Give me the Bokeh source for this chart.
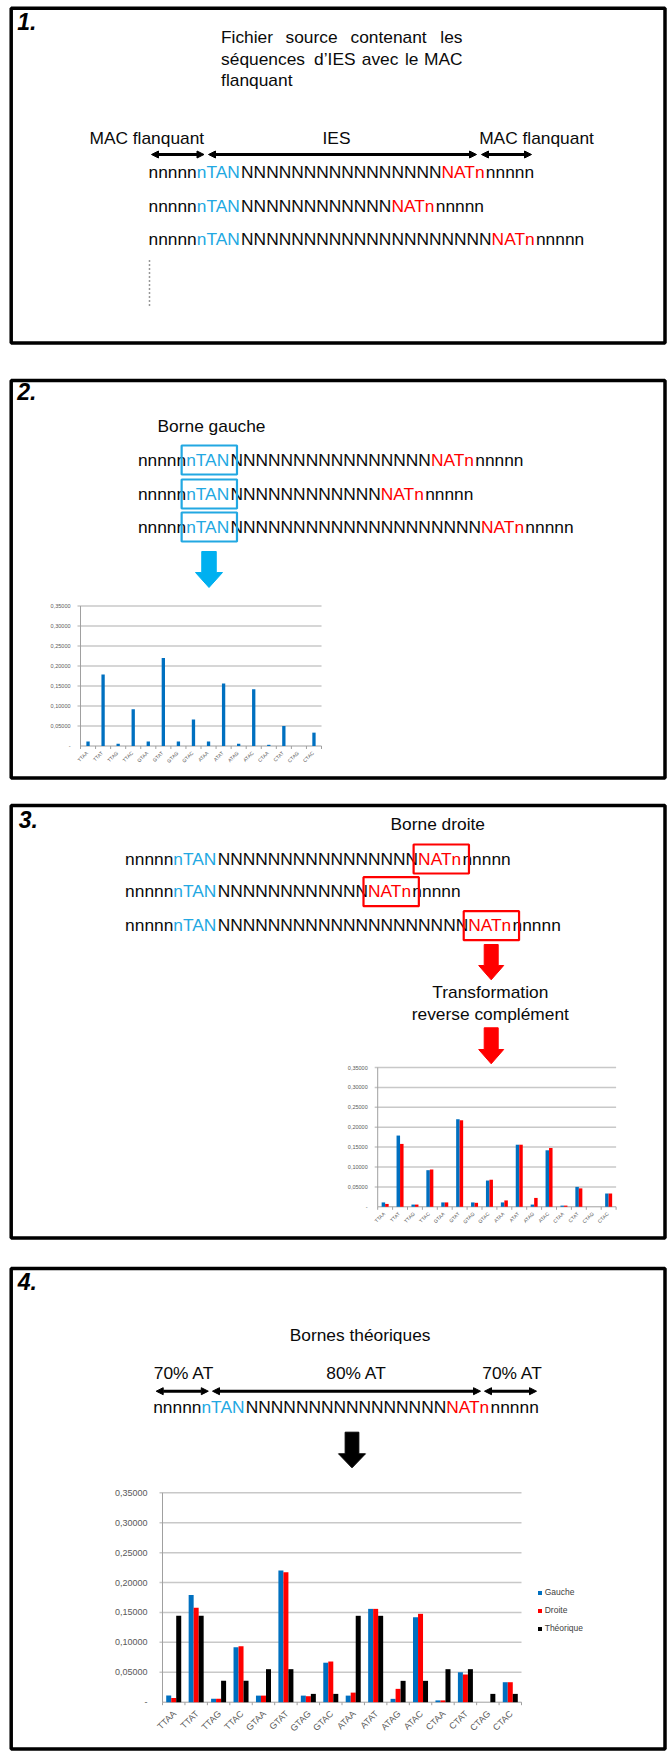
import math
from bokeh.plotting import figure
from bokeh.models import (Range1d, FactorRange, CategoricalScale, LinearScale, CoordinateMapping,
                          Arrow, NormalHead, Legend, LegendItem, ColumnDataSource)
from bokeh.transform import dodge
from bokeh.core.properties import value
from bokeh.embed import file_html
from bokeh.resources import INLINE

# ---------------- data ----------------
categories = ["TTAA", "TTAT", "TTAG", "TTAC", "GTAA", "GTAT", "GTAG", "GTAC",
              "ATAA", "ATAT", "ATAG", "ATAC", "CTAA", "CTAT", "CTAG", "CTAC"]
gauche = [0.011, 0.179, 0.0056, 0.092, 0.011, 0.220, 0.011, 0.066,
          0.011, 0.156, 0.0056, 0.142, 0.003, 0.050, 0.0, 0.0334]
droite = [0.0072, 0.158, 0.0056, 0.0937, 0.011, 0.2174, 0.010, 0.068,
          0.016, 0.156, 0.0223, 0.1477, 0.003, 0.0463, 0.0, 0.0334]
theorique = [0.1444, 0.1444, 0.0357, 0.0357, 0.0552, 0.0552, 0.0139, 0.0139,
             0.1444, 0.1444, 0.0357, 0.0357, 0.0552, 0.0552, 0.0139, 0.0139]
series_names = ["Gauche", "Droite", "Théorique"]
y_ticks = [0.0, 0.05, 0.10, 0.15, 0.20, 0.25, 0.30, 0.35]
y_tick_labels = ["-", "0,05000", "0,10000", "0,15000", "0,20000", "0,25000", "0,30000", "0,35000"]
ies_lengths = [16, 12, 20]   # number of N in the three example IES

# ---------------- styles ----------------
BLACK = "#0A0A0A"
BLUE_TXT = "#22A8E2"
BLUE_ARROW = "#00B0F0"
RED = "#FF0000"
BAR_COLORS = ["#0070C0", "#FF0000", "#000000"]
GRID = "#C8C8C8"
AXIS = "#A0A0A0"
LABEL = "#595959"
FONT = "Liberation Sans"
FS = 17.35
DY = -1.0
W, H = 669, 1751

p = figure(width=W, height=H, x_range=Range1d(0, W), y_range=Range1d(H, 0),
           output_backend="svg", toolbar_location=None, x_axis_location=None,
           y_axis_location=None, min_border=0, outline_line_color=None)
p.grid.visible = False
p.background_fill_color = "white"
p.border_fill_color = "white"


def txt(x, y, s, size=FS, color=BLACK, align="left", style="normal"):
    p.text(x=[x], y=[y + DY], text=[s], text_font=value(FONT), text_font_size=value(f"{size}px"),
           text_color=color, text_align=align, text_baseline="middle", text_font_style=style)


W_EM = {"n": 0.556, "T": 0.611, "A": 0.667, "N": 0.722}


def em(s):
    return sum(W_EM[c] for c in s) * FS


def sequence(x, y, k):
    parts = [("nnnnn", BLACK), ("nTAN", BLUE_TXT), ("N" * k, BLACK), ("NATn", RED), ("nnnnn", BLACK)]
    segs = []
    for s, c in parts:
        txt(x, y, s, color=c)
        segs.append((x, x + em(s)))
        x += em(s)
    return segs


def box(seg, y, color):
    p.quad(left=[seg[0] - 4.5], right=[seg[1] + 6.5], top=[y - 15], bottom=[y + 14],
           fill_color=None, line_color=color, line_width=2.2)


def dbl_arrow(xa, xb, y):
    p.add_layout(Arrow(start=NormalHead(size=7, fill_color="black", line_color="black"),
                       end=NormalHead(size=7, fill_color="black", line_color="black"),
                       x_start=xa, y_start=y, x_end=xb, y_end=y, line_width=3, line_color="black"))


def block_arrow(cx, top, head_y, tip, shaft_w, head_w, color):
    xs = [cx - shaft_w / 2, cx + shaft_w / 2, cx + shaft_w / 2, cx + head_w / 2, cx,
          cx - head_w / 2, cx - shaft_w / 2]
    ys = [top, top, head_y, head_y, tip, head_y, head_y]
    p.patch(xs, ys, fill_color=color, line_color=color, line_width=1)


def bar_chart(xl, xr, y_zero, y_top, series, colors, bar_w, lab_fs, cat_fs, gap, cat_dx, cat_dy):
    n_cat = len(categories)
    fr = FactorRange(factors=categories)
    cm_cat = CoordinateMapping(x_source=fr, y_source=Range1d(0, 0.35),
                               x_scale=CategoricalScale(), y_scale=LinearScale(),
                               x_target=Range1d(xl, xr), y_target=Range1d(y_zero, y_top))
    cm_lin = CoordinateMapping(x_source=Range1d(0, n_cat), y_source=Range1d(0, 0.35),
                               x_scale=LinearScale(), y_scale=LinearScale(),
                               x_target=Range1d(xl, xr), y_target=Range1d(y_zero, y_top))
    px_per_cat = (xr - xl) / n_cat
    px_per_unit = (y_zero - y_top) / 0.35
    r = p.segment(x0=-3 / px_per_cat, x1=n_cat, y0=y_ticks[1:], y1=y_ticks[1:],
                  line_color=GRID, line_width=1.5)
    r.coordinates = cm_lin
    r = p.segment(x0=[0, 0], x1=[0, n_cat], y0=[0, 0], y1=[0.35, 0], line_color=AXIS, line_width=1)
    r.coordinates = cm_lin
    r = p.segment(x0=list(range(n_cat + 1)), x1=list(range(n_cat + 1)), y0=0,
                  y1=-3 / px_per_unit, line_color=AXIS, line_width=1)
    r.coordinates = cm_lin
    r = p.text(x=0, y=y_ticks, text=y_tick_labels, x_offset=-gap, text_align="right",
               text_baseline="middle", text_font=value(FONT), text_font_size=value(f"{lab_fs}px"),
               text_color=LABEL)
    r.coordinates = cm_lin
    n = len(series)
    rends = []
    for i, (vals, col) in enumerate(zip(series, colors)):
        off = (i - (n - 1) / 2) * bar_w
        src = ColumnDataSource(dict(cat=categories, val=vals))
        r = p.vbar(x=dodge("cat", off, range=fr), top="val", bottom=0, width=bar_w, source=src,
                   fill_color=col, line_color=None)
        r.coordinates = cm_cat
        rends.append(r)
    src = ColumnDataSource(dict(cat=categories))
    r = p.text(x="cat", y=0, text="cat", source=src, angle=math.pi / 4, text_align="right",
               text_baseline="middle", x_offset=cat_dx, y_offset=cat_dy, text_font=value(FONT),
               text_font_size=value(f"{cat_fs}px"), text_color=LABEL)
    r.coordinates = cm_cat
    return rends


# ---------------- panel borders ----------------
p.quad(left=10.7, right=664.5, top=[7.7, 380, 805, 1268], bottom=[342.5, 777.5, 1237.5, 1748.5],
       fill_color=None, line_color="black", line_width=3.5)

# ---------------- panel 1 ----------------
txt(16.7, 22, "1.", size=23, color="black", style="bold italic")
for w, x in [("Fichier", 220.5), ("source", 285), ("contenant", 350)]:
    txt(x, 37.5, w)
txt(462, 37.5, "les", align="right")
for w, x in [("séquences", 220.6), ("d’IES", 313.6), ("avec", 361.3), ("le", 404.4)]:
    txt(x, 59, w)
txt(462, 59, "MAC", align="right")
txt(220.6, 80, "flanquant")
txt(146.3, 138, "MAC flanquant", align="center")
txt(336, 138, "IES", align="center")
txt(536, 138, "MAC flanquant", align="center")
dbl_arrow(151, 203.5, 154)
dbl_arrow(208, 476, 154)
dbl_arrow(481, 531, 154)
for k, y in zip(ies_lengths, [172, 206, 239]):
    sequence(148, y, k)
p.line([149, 149], [260, 308], line_dash="1 3", line_width=1.5, line_color="#333333")

# ---------------- panel 2 ----------------
txt(16.7, 392, "2.", size=23, color="black", style="bold italic")
txt(157, 426.7, "Borne gauche")
for k, y in zip(ies_lengths, [460, 494, 527]):
    segs = sequence(137.4, y, k)
    box(segs[1], y, BLUE_TXT)
block_arrow(208.5, 551, 572, 587, 14.5, 27, BLUE_ARROW)
bar_chart(80, 321, 745.5, 605.5, [gauche], BAR_COLORS[:1], 0.22, 5.5, 5, 10, -1, 6)

# ---------------- panel 3 ----------------
txt(18.3, 819.5, "3.", size=23, color="black", style="bold italic")
txt(390, 824.3, "Borne droite")
for k, y in zip(ies_lengths, [859, 891.7, 925.7]):
    segs = sequence(124.6, y, k)
    box(segs[3], y, RED)
block_arrow(490.7, 944, 965, 979.3, 14, 25, RED)
txt(489.8, 992.7, "Transformation", align="center")
txt(489.8, 1014, "reverse complément", align="center")
block_arrow(490.7, 1027.3, 1049, 1063.3, 14, 25, RED)
bar_chart(377.2, 615.6, 1206.3, 1067, [gauche, droite], BAR_COLORS[:2], 0.235, 5.5, 5, 10, -1, 6)

# ---------------- panel 4 ----------------
txt(17.3, 1282.3, "4.", size=23, color="black", style="bold italic")
txt(359.6, 1335, "Bornes théoriques", align="center")
txt(183.5, 1373.3, "70% AT", align="center")
txt(356, 1373.3, "80% AT", align="center")
txt(512, 1373.3, "70% AT", align="center")
dbl_arrow(155.7, 207.8, 1390.7)
dbl_arrow(212, 480, 1390.7)
dbl_arrow(484, 536, 1390.7)
sequence(152.7, 1407.3, ies_lengths[0])
block_arrow(351.5, 1431.7, 1453.3, 1467.3, 13.7, 27, "black")
rends = bar_chart(162, 521, 1701.7, 1492.3, [gauche, droite, theorique], BAR_COLORS, 0.223,
                  9, 9, 15, 1, 10)

legend = Legend(items=[LegendItem(label=nm, renderers=[r]) for nm, r in zip(series_names, rends)],
                location=(536.7, 117), padding=0, margin=0, spacing=6, label_height=12,
                glyph_height=5, glyph_width=5, label_standoff=3,
                label_text_font=FONT, label_text_font_size="8.5px", label_text_color="#404040",
                background_fill_alpha=0, border_line_color=None)
p.add_layout(legend)

open("out.html", "w").write(file_html(p, INLINE))
